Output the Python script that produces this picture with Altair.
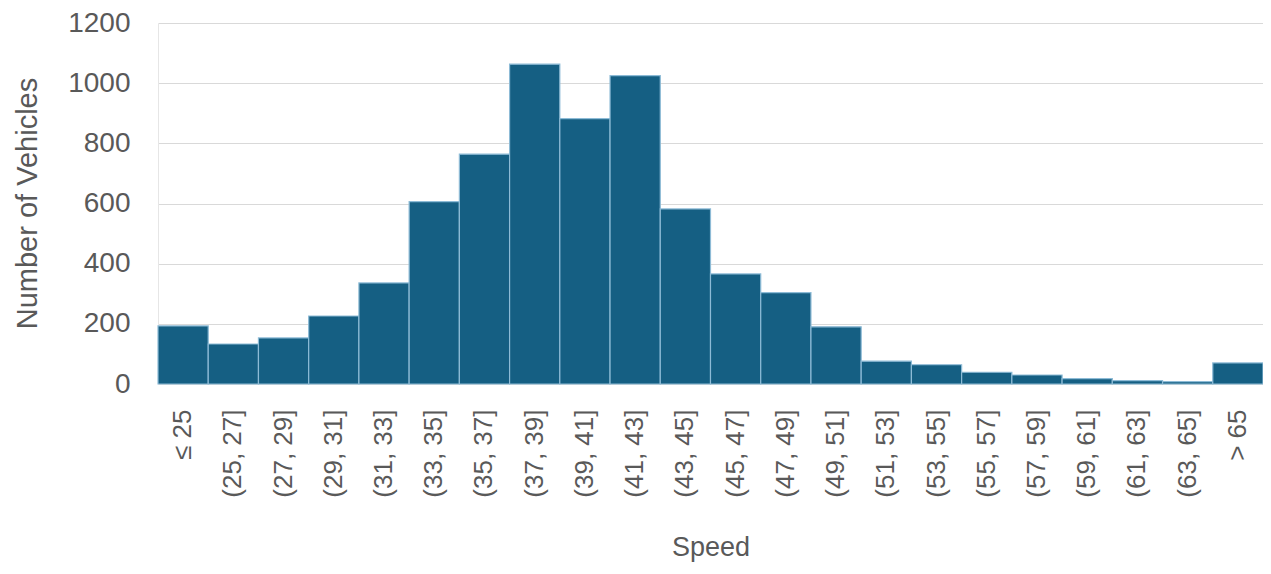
import altair as alt
import pandas as pd

bins = ["≤ 25", "(25, 27]", "(27, 29]", "(29, 31]", "(31, 33]", "(33, 35]", "(35, 37]",
        "(37, 39]", "(39, 41]", "(41, 43]", "(43, 45]", "(45, 47]", "(47, 49]", "(49, 51]",
        "(51, 53]", "(53, 55]", "(55, 57]", "(57, 59]", "(59, 61]", "(61, 63]", "(63, 65]", "> 65"]
counts = [193, 133, 153, 226, 336, 606, 764, 1063, 882, 1025, 582, 366, 304, 190,
          76, 64, 39, 30, 18, 11, 8, 70]

df = pd.DataFrame({"Speed": bins, "Count": counts})

FONT = "Liberation Sans"
GREY = "#595959"

chart = alt.Chart(df).mark_bar(
    color="#155f83", stroke="#8dbbd6", strokeWidth=1.2
).encode(
    x=alt.X("Speed:N", sort=None,
            scale=alt.Scale(paddingInner=0, paddingOuter=0),
            axis=alt.Axis(title="Speed", labelAngle=-90, labelAlign="right",
                          labelBaseline="middle", labelPadding=25, ticks=False,
                          domain=False, labelFontSize=26, labelColor=GREY,
                          labelFont=FONT, titleFont=FONT, titleFontSize=27,
                          titleFontWeight="normal", titleColor=GREY,
                          titleY=163, titleBaseline="middle")),
    y=alt.Y("Count:Q",
            scale=alt.Scale(domain=[0, 1200], nice=False),
            axis=alt.Axis(title="Number of Vehicles", values=[0, 200, 400, 600, 800, 1000, 1200],
                          format="d", ticks=False, domain=True, domainColor="#e6e6e6",
                          gridColor="#d9d9d9", gridWidth=1.2,
                          labelFontSize=28, labelColor=GREY, labelPadding=28,
                          labelFont=FONT, titleFont=FONT, titleFontSize=29,
                          titleFontWeight="normal", titleColor=GREY,
                          titleX=-131, titleY=180, titleAlign="center",
                          titleBaseline="middle")),
).properties(
    width=1105, height=361,
    autosize=alt.AutoSizeParams(type="none"),
    padding={"left": 150, "top": 15, "right": 0, "bottom": 182},
).configure_view(stroke=None)

chart.save("out.html", embed_options={"renderer": "svg", "actions": False})
